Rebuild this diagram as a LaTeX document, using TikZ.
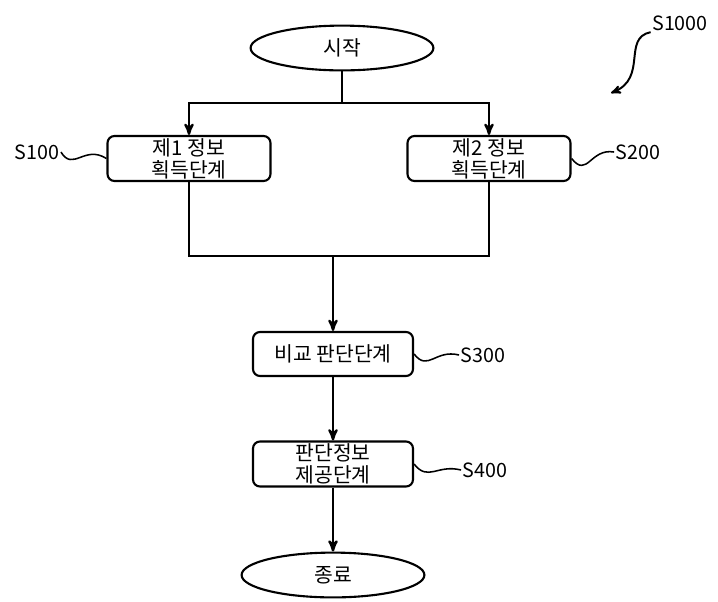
\documentclass[tikz,border=0pt]{standalone}
\usepackage{fontspec}
\setmainfont{Noto Sans CJK KR}
\usetikzlibrary{arrows}
\usetikzlibrary{shapes.geometric}

\tikzset{
 stepbox/.style={draw, rounded corners=5pt, line width=1.5pt, minimum width=4.075cm, minimum height=1.125cm, inner sep=0pt, align=center, font=\fontsize{14.5}{15.5}\selectfont},
 termbox/.style={draw, ellipse, line width=1.5pt, minimum width=4.57cm, minimum height=1.12cm, inner sep=0pt, font=\fontsize{14.5}{15.5}\selectfont},
 flow/.style={line width=1.7pt, >=stealth'},
 tag/.style={inner sep=1pt, font=\fontsize{14}{15.5}\selectfont},
}

\begin{document}
\begin{tikzpicture} [x=0.025cm, y=-0.025cm]
\useasboundingbox (0,0) rectangle (718,601);
% steps
\node[termbox] (start) at (342,48) {시작};
\node[stepbox] (s100) at (189,158.5) {제1 정보\\획득단계};
\node[stepbox] (s200) at (489,158.5) {제2 정보\\획득단계};
\node[stepbox, minimum width=4cm, minimum height=1.1cm] (s300) at (333,354) {비교 판단단계};
\node[stepbox, minimum width=4cm] (s400) at (333,464) {판단정보\\제공단계};
\node[termbox] (end) at (333,575) {종료};
\coordinate (split) at (342,103);
\coordinate (merge) at (333,256);
% connectors
\draw[flow] (start) -- (split);
\draw[flow, ->] (split) -| (s100);
\draw[flow, ->] (split) -| (s200);
\draw[flow] (s100) |- (merge);
\draw[flow] (s200) |- (merge);
\draw[flow, ->] (merge) -- (s300);
\draw[flow, ->] (s300) -- (s400);
\draw[flow, ->] (s400) -- (end);
% labels
\node[tag] (t100) at (37,152) {S100};
\node[tag] (t200) at (638,152) {S200};
\node[tag] (t300) at (483,355) {S300};
\node[tag] (t400) at (485,470) {S400};
\node[tag] (t1000) at (680,23) {S1000};
\coordinate (tip) at (611,93);
\draw[line width=1.1pt] (t100.east) .. controls +(12,20) and +(-22,-14) .. (s100.west);
\draw[line width=1.1pt] (s200.east) .. controls +(16,20) and +(-24,-4) .. (t200.west);
\draw[line width=1.1pt] (s300.east) .. controls +(14,18) and +(-24,-6) .. (t300.west);
\draw[line width=1.1pt] (s400.east) .. controls +(14,18) and +(-24,-6) .. (t400.west);
\draw[line width=1.4pt, ->, >=stealth'] (t1000.south west) .. controls (622,38) and (648,78) .. (tip);
\end{tikzpicture}
\end{document}
